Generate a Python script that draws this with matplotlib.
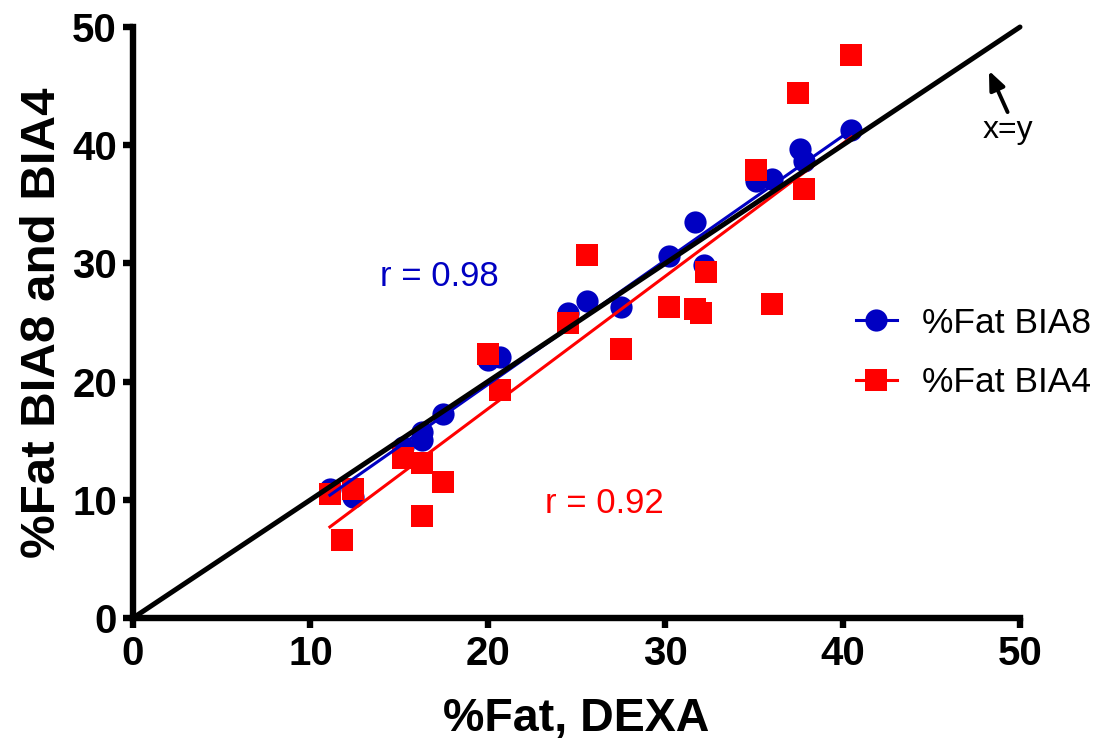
import matplotlib
matplotlib.use("Agg")
import matplotlib.pyplot as plt
from matplotlib.lines import Line2D
import numpy as np

plt.rcParams['font.family'] = ['Liberation Sans', 'DejaVu Sans']

# %Fat BIA8 (blue circles)
x_bia8 = [11.1, 12.4, 15.2, 16.3, 16.3, 17.5, 20.0, 20.7, 24.5, 25.6, 27.5,
          30.2, 31.7, 32.2, 35.1, 36.0, 37.6, 37.8, 40.5]
y_bia8 = [10.9, 10.2, 14.5, 15.7, 15.1, 17.3, 21.8, 22.1, 25.8, 26.8, 26.3,
          30.6, 33.5, 29.9, 37.0, 37.1, 39.7, 38.7, 41.3]

# %Fat BIA4 (red squares)
x_bia4 = [11.1, 11.8, 12.4, 15.2, 16.3, 16.3, 17.5, 20.0, 20.7, 24.5, 25.6,
          27.5, 30.2, 31.7, 32.0, 32.3, 35.1, 36.0, 37.5, 37.8, 40.5]
y_bia4 = [10.5, 6.6, 10.9, 13.5, 13.1, 8.6, 11.5, 22.3, 19.3, 25.0, 30.7,
          22.8, 26.3, 26.1, 25.8, 29.3, 37.9, 26.6, 44.4, 36.3, 47.6]

# regression lines (slope, intercept) and x range
fit_bia8 = (1.051, -1.27)
fit_bia4 = (1.122, -4.75)
fit_range = (11.1, 40.5)

r_bia8 = "r = 0.98"
r_bia4 = "r = 0.92"
labels = ["%Fat BIA8", "%Fat BIA4"]
ticks = [0, 10, 20, 30, 40, 50]

blue = "#0000C2"
red = "#FF0000"

fig = plt.figure(figsize=(11.01, 7.42), dpi=100)
ax = fig.add_axes([133/1101, 1-618/742, (1020-133)/1101, (618-27)/742])

# identity line
ax.plot([0, 50], [0, 50], color="black", lw=3.6, zorder=5, solid_capstyle='round', clip_on=False)

xf = np.array(fit_range)
ax.plot(xf, fit_bia8[0]*xf + fit_bia8[1], color=blue, lw=2.2, zorder=4)
ax.plot(xf, fit_bia4[0]*xf + fit_bia4[1], color=red, lw=2.2, zorder=4)

ax.plot(x_bia8, y_bia8, 'o', color=blue, ms=16, mew=0, zorder=3)
ax.plot(x_bia4, y_bia4, 's', color=red, ms=16.5, mew=0, zorder=3.5)

ax.set_xlim(0, 50)
ax.set_ylim(0, 50)
ax.set_xticks(ticks)
ax.set_yticks(ticks)
for s in ['top', 'right']:
    ax.spines[s].set_visible(False)
for s in ['left', 'bottom']:
    ax.spines[s].set_linewidth(4.6)
ax.tick_params(axis='both', direction='out', length=7.5, width=4.6, labelsize=29)
ax.tick_params(axis='x', pad=5)
ax.tick_params(axis='y', pad=4)
for lab in ax.get_xticklabels() + ax.get_yticklabels():
    lab.set_fontweight('bold')

ax.set_xlabel("%Fat, DEXA", fontsize=33.5, fontweight='bold', labelpad=17)
ax.set_ylabel("%Fat BIA8 and BIA4", fontsize=35.5, fontweight='bold', labelpad=5)

ax.text(13.9, 28.85, r_bia8, color=blue, fontsize=25, ha='left', va='center')
ax.text(23.2, 9.7, r_bia4, color=red, fontsize=25, ha='left', va='center')

ax.text(49.3, 41.3, "x=y", fontsize=23, ha='center', va='center')
ax.annotate("", xy=(48.25, 46.3), xytext=(49.3, 42.8), annotation_clip=False,
            arrowprops=dict(arrowstyle='-|>,head_length=0.75,head_width=0.32',
                            color='black', lw=2.8, mutation_scale=15,
                            shrinkA=0, shrinkB=0))

handles = [Line2D([], [], color=blue, marker='o', ms=16, mew=0, lw=2.2),
           Line2D([], [], color=red, marker='s', ms=16.5, mew=0, lw=2.2)]
fig.legend(handles, labels, loc='center left', bbox_to_anchor=(838/1101, 1-353/742),
           frameon=False, fontsize=25.5, handlelength=1.16, handletextpad=0.7,
           labelspacing=0.75, borderpad=0)

fig.savefig("out.png", dpi=100)
